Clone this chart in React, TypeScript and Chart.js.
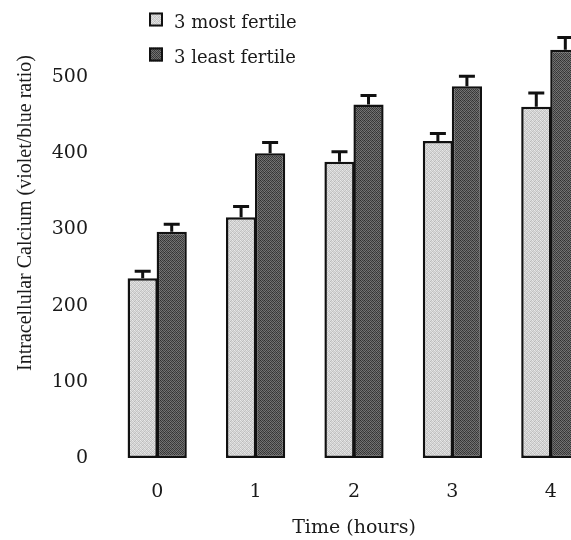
import React, { useEffect, useRef } from "react";
import { Chart, registerables } from "chart.js";

Chart.register(...registerables);

const categories = ["0", "1", "2", "3", "4"];
const seriesLabels = ["3 most fertile", "3 least fertile"];
const mostFertile = [236, 316, 389, 416, 461];
const mostFertileErr = [9, 14, 13, 10, 18];
const leastFertile = [297, 400, 464, 488, 536];
const leastFertileErr = [10, 14, 12, 13, 16];
const yTicks = [0, 100, 200, 300, 400, 500];
const xTitle = "Time (hours)";
const yTitle = "Intracellular Calcium (violet/blue ratio)";

const LIGHT_PIX = [
  [0xe8, 0xc8, 0xdc, 0xc0],
  [0xcc, 0xe4, 0xb8, 0xd8],
  [0xdc, 0xc4, 0xe8, 0xc8],
  [0xc0, 0xd8, 0xcc, 0xe0],
];
const DARK_PIX = [
  [0x30, 0x70, 0x40, 0x68],
  [0x6c, 0x38, 0x78, 0x3c],
  [0x44, 0x74, 0x34, 0x70],
  [0x78, 0x3c, 0x6c, 0x40],
];

function makePattern(ctx: CanvasRenderingContext2D, pix: number[][]) {
  const c = document.createElement("canvas");
  c.width = 4;
  c.height = 4;
  const g = c.getContext("2d")!;
  for (let y = 0; y < 4; y++) {
    for (let x = 0; x < 4; x++) {
      const v = pix[y][x];
      g.fillStyle = `rgb(${v},${v},${v})`;
      g.fillRect(x, y, 1, 1);
    }
  }
  return ctx.createPattern(c, "repeat")!;
}

const SERIF_WIDE = "'DejaVu Serif', serif";
const SERIF = "'Liberation Serif', 'Times New Roman', serif";
const TEXT = "#1a1a1a";

export default function App() {
  const ref = useRef<HTMLCanvasElement | null>(null);

  useEffect(() => {
    const canvas = ref.current!;
    const ctx = canvas.getContext("2d")!;
    const lightPat = makePattern(ctx, LIGHT_PIX);
    const darkPat = makePattern(ctx, DARK_PIX);
    const errs = [mostFertileErr, leastFertileErr];
    const fills = [lightPat, darkPat];

    const errorBars = {
      id: "errorBars",
      afterDatasetsDraw(chart: any) {
        const c = chart.ctx;
        const yScale = chart.scales.y;
        c.save();
        c.strokeStyle = "#111";
        c.lineWidth = 3;
        chart.data.datasets.forEach((ds: any, i: number) => {
          const meta = chart.getDatasetMeta(i);
          meta.data.forEach((el: any, j: number) => {
            const v = ds.data[j];
            const top = yScale.getPixelForValue(v + errs[i][j]);
            c.beginPath();
            c.moveTo(el.x, el.y);
            c.lineTo(el.x, top);
            c.moveTo(el.x - 8, top);
            c.lineTo(el.x + 8, top);
            c.stroke();
          });
        });
        c.restore();
      },
    };

    const decorations = {
      id: "decorations",
      afterDraw(chart: any) {
        const c = chart.ctx;
        c.save();
        c.fillStyle = TEXT;
        c.font = `20px ${SERIF}`;
        c.textAlign = "center";
        c.textBaseline = "middle";
        c.translate(26, 213);
        c.rotate(-Math.PI / 2);
        c.fillText(yTitle, 0, 0);
        c.restore();

        c.save();
        const rows = [
          { y: 12.5, label: chart.data.datasets[0].label, fill: fills[0] },
          { y: 47.5, label: chart.data.datasets[1].label, fill: fills[1] },
        ];
        rows.forEach((r) => {
          c.fillStyle = r.fill;
          c.fillRect(149, r.y, 14, 14);
          c.strokeStyle = "#111";
          c.lineWidth = 2;
          c.strokeRect(150, r.y + 1, 12, 12);
          c.fillStyle = TEXT;
          c.font = `18px ${SERIF_WIDE}`;
          c.textAlign = "left";
          c.textBaseline = "alphabetic";
          c.fillText(r.label, 174, r.y + 15);
        });
        c.restore();
      },
    };

    const chart = new Chart(canvas, {
      type: "bar",
      data: {
        labels: categories,
        datasets: [
          {
            label: seriesLabels[0],
            data: mostFertile,
            backgroundColor: lightPat as any,
            borderColor: "#111",
            borderWidth: 2.5,
            borderSkipped: false,
            categoryPercentage: 0.59,
            barPercentage: 1.04,
          },
          {
            label: seriesLabels[1],
            data: leastFertile,
            backgroundColor: darkPat as any,
            borderColor: "#111",
            borderWidth: 2.5,
            borderSkipped: false,
            categoryPercentage: 0.59,
            barPercentage: 1.04,
          },
        ],
      },
      options: {
        responsive: false,
        animation: false,
        devicePixelRatio: 1,
        layout: { padding: { top: 26, right: 5, left: 0, bottom: 0 } },
        plugins: {
          legend: { display: false },
          tooltip: { enabled: false },
        },
        scales: {
          x: {
            type: "category",
            grid: { display: false, drawTicks: false },
            border: { display: false },
            ticks: {
              color: TEXT,
              font: { family: SERIF_WIDE, size: 19 },
              padding: 23,
              maxRotation: 0,
            },
            title: {
              display: true,
              text: xTitle,
              color: TEXT,
              font: { family: SERIF_WIDE, size: 19 },
              padding: { top: 0, bottom: 1 },
            },
            afterFit(scale: any) {
              scale.height = 82;
            },
          },
          y: {
            min: 0,
            max: 560,
            grid: { display: false, drawTicks: false },
            border: { display: false },
            ticks: {
              color: TEXT,
              font: { family: SERIF_WIDE, size: 19 },
              padding: 20,
            },
            afterBuildTicks(scale: any) {
              scale.ticks = yTicks.map((v) => ({ value: v }));
            },
            afterFit(scale: any) {
              scale.width = 108;
            },
          },
        },
      },
      plugins: [errorBars, decorations],
    });

    return () => chart.destroy();
  }, []);

  return (
    <div
      style={{
        position: "fixed",
        left: 0,
        top: 0,
        width: 571,
        height: 540,
        overflow: "hidden",
        background: "#fff",
      }}
    >
      <canvas
        ref={ref}
        width={605}
        height={540}
        style={{ width: 605, height: 540, display: "block" }}
      />
    </div>
  );
}
